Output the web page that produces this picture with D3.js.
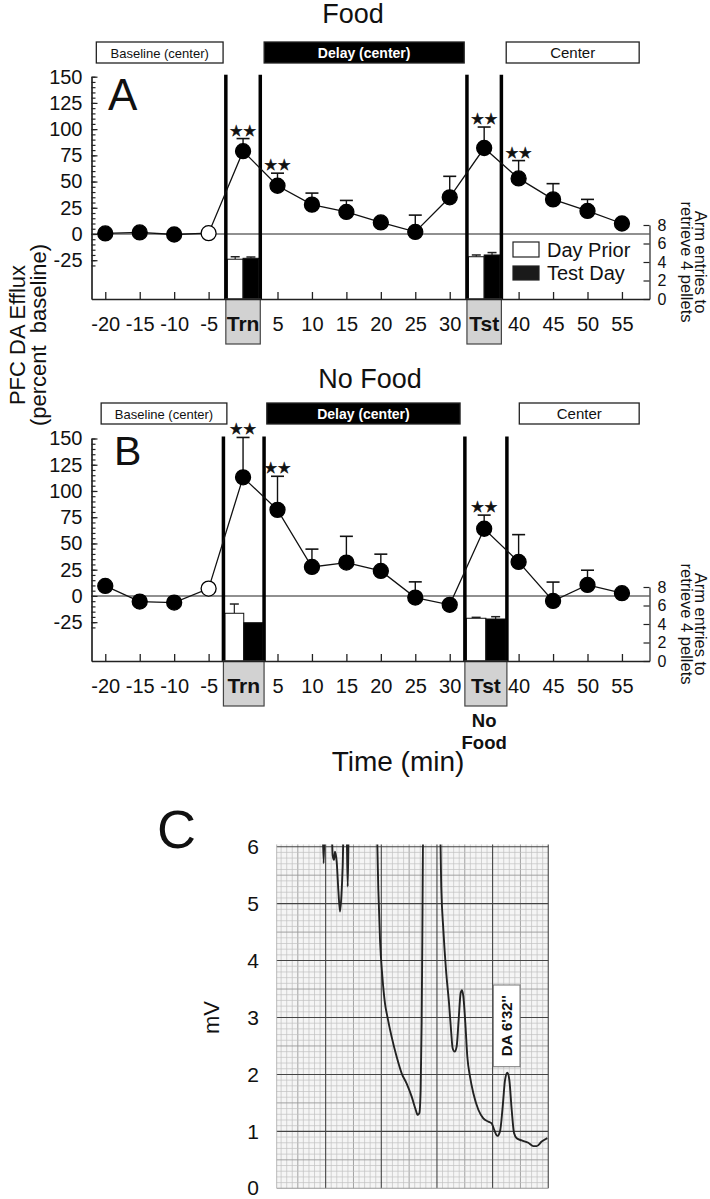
<!DOCTYPE html>
<html><head><meta charset="utf-8">
<script src="https://cdn.jsdelivr.net/npm/d3@7"></script>
<style>
body{margin:0;background:#fff;}
svg{display:block;font-family:"Liberation Sans",Arial,Helvetica,sans-serif;}
</style>
</head><body>
<svg id="chart" width="710" height="1199"></svg>
<script>
// ---------------- DATA ----------------
const times = [-20, -15, -10, -5, 0, 5, 10, 15, 20, 25, 30, 35, 40, 45, 50, 55];
const timeTickLabels = ["-20","-15","-10","-5","Trn","5","10","15","20","25","30","Tst","40","45","50","55"];
const openPointTime = -5;

const foodMean   = [0.5, 1.5, -0.5, 0.8, 79, 46, 28, 21, 11, 2, 35, 82, 53, 33, 22, 10];
const foodSem    = [0, 0, 0, 0, 12, 12, 11, 11, 0, 16, 20, 20, 17, 15, 11, 0];
const foodStars  = [0, 5, 35, 40];

const noFoodMean  = [9.5, -5.4, -6.3, 7, 113, 82, 27.6, 31.8, 23.8, -1.6, -8.5, 64, 32.4, -4.8, 10.5, 2.6];
const noFoodSem   = [0, 0, 0, 0, 38, 32, 17, 25, 16, 15, 0, 13, 26, 18, 14, 0];
const noFoodStars = [0, 5, 35];

const effluxTicks = [-25, 0, 25, 50, 75, 100, 125, 150];
const armTicks = [0, 2, 4, 6, 8];
const armCategories = ["Day Prior", "Test Day"];
const armTitle = ["Arm entries to", "retrieve 4 pellets"];
const foodArmTrn = [4.3, 4.4],   foodArmTrnErr = [0.27, 0.14];
const foodArmTst = [4.57, 4.76], foodArmTstErr = [0.19, 0.26];
const noFoodArmTrn = [5.16, 4.14], noFoodArmTrnErr = [1.0, 0];
const noFoodArmTst = [4.62, 4.54], noFoodArmTstErr = [0.1, 0.25];

const headerLabels = ["Baseline (center)", "Delay (center)", "Center"];

const mvTicks = [0, 1, 2, 3, 4, 5, 6];
const traceU  = [0.940,0.964,0.988,1.100,1.126,1.150,1.168,1.198,1.228,1.258,1.282,1.306,1.330,1.372,1.396,1.420,
                 1.910,1.947,1.977,2.019,2.066,2.108,2.186,2.276,2.366,2.456,2.546,2.618,2.654,2.684,2.707,2.725,2.737,2.755,
                 3.050,3.079,3.115,3.163,3.217,3.253,3.282,3.318,3.354,3.390,3.426,3.450,3.474,3.510,3.546,3.594,3.654,3.744,
                 3.833,3.923,3.983,4.031,4.085,4.133,4.181,4.223,4.265,4.301,4.343,4.385,4.433,4.523,4.642,4.732,4.792,4.882,4.984];
const traceMv = [6.6,5.71,6.6,6.6,5.85,5.77,5.91,5.74,5.24,4.86,5.12,5.65,6.6,6.6,5.30,6.6,
                 6.6,5.24,4.36,3.72,3.25,3.02,2.66,2.31,2.02,1.84,1.61,1.38,1.29,1.32,1.73,2.90,4.36,6.6,
                 6.6,5.24,4.54,3.83,3.25,2.78,2.46,2.40,2.49,2.96,3.43,3.48,3.37,2.90,2.31,1.96,1.67,1.38,
                 1.23,1.17,1.14,1.02,0.92,1.00,1.43,1.90,2.03,1.90,1.38,0.97,0.88,0.84,0.80,0.74,0.74,0.82,0.88];
const daLabel = "DA 6'32''";

// ---------------- LAYOUT ----------------
const svg = d3.select("#chart");
const x = d3.scaleLinear().domain([-22, 59]).range([91.5, 649.5]);
const fmt = d => String(d);

const panels = [
  { title: "Food", titleX: 353, titleY: 23, letter: "A", letterX: 108, letterY: 110, letterSize: 44,
    top: 76.7, bottom: 299, headerY: 42, mean: foodMean, sem: foodSem, stars: foodStars,
    headers: [[-21.3, -2.9], [3.06, 32.1], [38.2, 57.5]],
    windows: [[-2.5, 2.5], [32.5, 37.5]],
    arms: [[foodArmTrn, foodArmTrnErr], [foodArmTst, foodArmTstErr]], legend: true, note: false },
  { title: "No Food", titleX: 370, titleY: 388, letter: "B", letterX: 114, letterY: 465, letterSize: 41,
    top: 438.5, bottom: 661, headerY: 403, mean: noFoodMean, sem: noFoodSem, stars: noFoodStars,
    headers: [[-20.6, -2.35], [3.45, 31.5], [40.1, 57.5]],
    windows: [[-2.85, 3.05], [32.2, 38.3]],
    arms: [[noFoodArmTrn, noFoodArmTrnErr], [noFoodArmTst, noFoodArmTstErr]], legend: false, note: true }
];

panels.forEach(p => {
  const y = d3.scaleLinear().domain([-62, 150]).range([p.bottom, p.top]);
  const r = d3.scaleLinear().domain([0, 8]).range([p.bottom, p.bottom - 74]);
  const g = svg.append("g");

  g.append("text").attr("x", p.titleX).attr("y", p.titleY).attr("text-anchor", "middle")
    .attr("font-size", 27).attr("fill", "#111").text(p.title);

  headerLabels.forEach((lab, i) => {
    const [a, b] = p.headers[i];
    const dark = i === 1;
    g.append("rect").attr("x", x(a)).attr("y", p.headerY).attr("width", x(b) - x(a)).attr("height", 21)
      .attr("fill", dark ? "#000" : "#fff").attr("stroke", "#222").attr("stroke-width", 1.3);
    g.append("text").attr("x", (x(a) + x(b)) / 2).attr("y", p.headerY + 15.5).attr("text-anchor", "middle")
      .attr("font-size", [13, 14, 15][i]).attr("font-weight", dark ? "bold" : "normal")
      .attr("fill", dark ? "#fff" : "#111").text(lab);
  });

  // zero line
  g.append("line").attr("x1", x.range()[0]).attr("x2", x.range()[1])
    .attr("y1", y(0)).attr("y2", y(0)).attr("stroke", "#222").attr("stroke-width", 1.1);

  // windows: bars, thick lines, gray boxes
  p.windows.forEach((w, wi) => {
    const xl = x(w[0]), xr = x(w[1]);
    const band = d3.scaleBand().domain(armCategories).range([xl + 1.5, xr - 1.5]).padding(0);
    const [vals, errs] = p.arms[wi];
    armCategories.forEach((c, ci) => {
      const bx = band(c), bw = band.bandwidth();
      if (errs[ci] > 0) {
        const cx = bx + bw / 2;
        g.append("line").attr("x1", cx).attr("x2", cx).attr("y1", r(vals[ci])).attr("y2", r(vals[ci] + errs[ci]))
          .attr("stroke", "#222").attr("stroke-width", 1.2);
        g.append("line").attr("x1", cx - 4.5).attr("x2", cx + 4.5).attr("y1", r(vals[ci] + errs[ci])).attr("y2", r(vals[ci] + errs[ci]))
          .attr("stroke", "#222").attr("stroke-width", 1.5);
      }
      g.append("rect").attr("x", bx).attr("y", r(vals[ci])).attr("width", bw).attr("height", r(0) - r(vals[ci]))
        .attr("fill", ci === 0 ? "#fff" : "#000").attr("stroke", "#111").attr("stroke-width", 1);
    });
    [xl, xr].forEach(xx => {
      g.append("line").attr("x1", xx).attr("x2", xx).attr("y1", p.top - 2).attr("y2", p.bottom)
        .attr("stroke", "#000").attr("stroke-width", 3.5);
    });
    g.append("rect").attr("x", xl).attr("y", p.bottom).attr("width", xr - xl).attr("height", 45)
      .attr("fill", "#d2d2d2").attr("stroke", "#444").attr("stroke-width", 1.2);
    g.append("text").attr("x", (xl + xr) / 2).attr("y", p.bottom + 32).attr("text-anchor", "middle")
      .attr("font-size", 21).attr("font-weight", "bold").attr("fill", "#111")
      .text(timeTickLabels[times.indexOf(wi === 0 ? 0 : 35)]);
  });

  // left axis: minor then major
  g.append("g").attr("transform", `translate(${x.range()[0]},0)`)
    .call(d3.axisLeft(y).tickValues(d3.range(-30, 151, 5)).tickSize(-4).tickSizeOuter(0).tickFormat(""))
    .call(s => s.selectAll("line,path").attr("stroke", "#222").attr("stroke-width", 1.2));
  g.append("g").attr("transform", `translate(${x.range()[0]},0)`)
    .call(d3.axisLeft(y).tickValues(effluxTicks).tickSize(-6).tickSizeOuter(0).tickPadding(9).tickFormat(fmt))
    .call(s => { s.selectAll("line,path").attr("stroke", "#222").attr("stroke-width", 1.2);
                 s.selectAll("text").attr("font-size", 20).attr("fill", "#111").attr("font-family", null); });

  // bottom axis
  const tv = times.filter(t => t !== 0 && t !== 35);
  g.append("g").attr("transform", `translate(0,${p.bottom})`)
    .call(d3.axisBottom(x).tickValues(tv).tickSize(-7).tickSizeOuter(0).tickPadding(18)
      .tickFormat(t => timeTickLabels[times.indexOf(t)]))
    .call(s => { s.selectAll("line,path").attr("stroke", "#222").attr("stroke-width", 1.3);
                 s.selectAll("text").attr("font-size", 20).attr("fill", "#111").attr("font-family", null); });

  // right axis
  g.append("g").attr("transform", `translate(${x.range()[1]},0)`)
    .call(d3.axisRight(r).tickValues(armTicks).tickSize(-6).tickSizeOuter(0).tickPadding(8).tickFormat(fmt))
    .call(s => { s.selectAll("line,path").attr("stroke", "#222").attr("stroke-width", 1.2);
                 s.selectAll("text").attr("font-size", 16).attr("fill", "#111").attr("font-family", null); });
  const rc = p.bottom - 37;
  [[armTitle[0], 695], [armTitle[1], 681]].forEach(([txt, bx]) => {
    g.append("text").attr("transform", `translate(${bx},${rc}) rotate(90)`).attr("text-anchor", "middle")
      .attr("font-size", 16.5).attr("fill", "#111").text(txt);
  });

  // series
  const pts = times.map((t, i) => ({ t, m: p.mean[i], s: p.sem[i] }));
  g.append("path").datum(pts).attr("fill", "none").attr("stroke", "#111").attr("stroke-width", 1.3)
    .attr("d", d3.line().x(d => x(d.t)).y(d => y(d.m)));
  pts.filter(d => d.s > 0).forEach(d => {
    g.append("line").attr("x1", x(d.t)).attr("x2", x(d.t)).attr("y1", y(d.m)).attr("y2", y(d.m + d.s))
      .attr("stroke", "#111").attr("stroke-width", 1.4);
    g.append("line").attr("x1", x(d.t) - 6.5).attr("x2", x(d.t) + 6.5).attr("y1", y(d.m + d.s)).attr("y2", y(d.m + d.s))
      .attr("stroke", "#111").attr("stroke-width", 1.6);
  });
  g.selectAll(null).data(pts).join("circle")
    .attr("cx", d => x(d.t)).attr("cy", d => y(d.m)).attr("r", 7.5)
    .attr("fill", d => d.t === openPointTime ? "#fff" : "#000").attr("stroke", "#000").attr("stroke-width", 1.3);

  pts.filter(d => p.stars.includes(d.t)).forEach(d => {
    g.append("text").attr("x", x(d.t)).attr("y", y(d.m + d.s) - 3).attr("text-anchor", "middle")
      .attr("font-size", 15).attr("font-family", "DejaVu Sans").attr("fill", "#111")
      .attr("stroke", "#111").attr("stroke-width", 0.5).text("★★");
  });

  g.append("text").attr("x", p.letterX).attr("y", p.letterY).attr("font-size", p.letterSize).attr("fill", "#111").text(p.letter);

  if (p.legend) {
    g.append("rect").attr("x", 513).attr("y", 242).attr("width", 26).attr("height", 15).attr("fill", "#fff").attr("stroke", "#222").attr("stroke-width", 1.2);
    g.append("rect").attr("x", 513).attr("y", 266).attr("width", 26).attr("height", 14).attr("fill", "#1a1a1a").attr("stroke", "#222").attr("stroke-width", 1.2);
    g.append("text").attr("x", 547).attr("y", 257).attr("font-size", 20).attr("fill", "#111").text(armCategories[0]);
    g.append("text").attr("x", 547).attr("y", 280).attr("font-size", 20).attr("fill", "#111").text(armCategories[1]);
  }
  if (p.note) {
    const cx = x(35);
    g.append("text").attr("x", cx).attr("y", 727).attr("text-anchor", "middle").attr("font-size", 18.5).attr("font-weight", "bold").attr("fill", "#111").text("No");
    g.append("text").attr("x", cx).attr("y", 749).attr("text-anchor", "middle").attr("font-size", 18.5).attr("font-weight", "bold").attr("fill", "#111").text("Food");
  }
});

// shared axis titles
const yt = svg.append("text").attr("transform", "translate(0,335) rotate(-90)").attr("text-anchor", "middle")
  .attr("font-size", 22).attr("fill", "#111").style("white-space", "pre");
yt.append("tspan").attr("x", 0).attr("y", 25).text("PFC DA Efflux");
yt.append("tspan").attr("x", 0).attr("y", 46).text("(percent  baseline)");
svg.append("text").attr("x", 398).attr("y", 771).attr("text-anchor", "middle").attr("font-size", 28).attr("fill", "#111").text("Time (min)");

// ---------------- PANEL C ----------------
const xC = d3.scaleLinear().domain([0, 5]).range([270, 548.25]);
const yC = d3.scaleLinear().domain([0, 6]).range([1188.3, 846.7]);
const gc = svg.append("g");
const gx0 = xC(0.12), gx1 = xC(5), gy0 = yC(6.04), gy1 = yC(0);
gc.append("rect").attr("x", gx0).attr("y", gy0).attr("width", gx1 - gx0).attr("height", gy1 - gy0).attr("fill", "#f5f5f5");
xC.ticks(50).filter(u => u > 0.12 && u < 5 && Math.abs(u - Math.round(u)) > 1e-6).forEach(u => {
  const half = Math.abs(u * 2 - Math.round(u * 2)) < 1e-6;
  gc.append("line").attr("x1", xC(u)).attr("x2", xC(u)).attr("y1", gy0).attr("y2", gy1)
    .attr("stroke", half ? "#999" : "#c2c2c2").attr("stroke-width", half ? 0.9 : 0.7);
});
yC.ticks(60).filter(v => v > 0 && v < 6 && Math.abs(v - Math.round(v)) > 1e-6).forEach(v => {
  const half = Math.abs(v * 2 - Math.round(v * 2)) < 1e-6;
  gc.append("line").attr("x1", gx0).attr("x2", gx1).attr("y1", yC(v)).attr("y2", yC(v))
    .attr("stroke", half ? "#999" : "#c2c2c2").attr("stroke-width", half ? 0.9 : 0.7);
});
[1, 2, 3, 4, 5].forEach(u => gc.append("line").attr("x1", xC(u)).attr("x2", xC(u)).attr("y1", gy0).attr("y2", gy1)
  .attr("stroke", "#444").attr("stroke-width", 1.1));
mvTicks.forEach(v => gc.append("line").attr("x1", gx0).attr("x2", gx1).attr("y1", yC(v)).attr("y2", yC(v))
  .attr("stroke", v === 0 ? "#999" : "#444").attr("stroke-width", 1.1));
gc.append("line").attr("x1", gx0).attr("x2", gx0).attr("y1", gy0).attr("y2", gy1).attr("stroke", "#aaa").attr("stroke-width", 0.8);

gc.append("clipPath").attr("id", "gridClip").append("rect")
  .attr("x", gx0).attr("y", gy0).attr("width", gx1 - gx0).attr("height", gy1 - gy0);
const tr = traceU.map((u, i) => [u, traceMv[i]]);
gc.append("path").datum(tr).attr("clip-path", "url(#gridClip)").attr("fill", "none")
  .attr("stroke", "#222").attr("stroke-width", 1.9).attr("stroke-linejoin", "round")
  .attr("d", d3.line().x(d => xC(d[0])).y(d => yC(d[1])).curve(d3.curveMonotoneX));

gc.selectAll(null).data(mvTicks).join("text").attr("x", 253).attr("y", d => yC(d)).attr("dy", "0.34em")
  .attr("text-anchor", "middle").attr("font-size", 21).attr("fill", "#111").text(fmt);
gc.append("text").attr("transform", `translate(219,${yC(3)}) rotate(-90)`).attr("text-anchor", "middle")
  .attr("font-size", 22).attr("fill", "#111").text("mV");
gc.append("text").attr("x", 157).attr("y", 848).attr("font-size", 54).attr("fill", "#111").text("C");

gc.append("rect").attr("x", 493.3).attr("y", 985).attr("width", 26.7).attr("height", 81.7)
  .attr("fill", "#fff").attr("stroke", "#777").attr("stroke-width", 1);
gc.append("text").attr("transform", `translate(512,1025.8) rotate(-90)`).attr("text-anchor", "middle")
  .attr("font-size", 15).attr("font-weight", "bold").attr("fill", "#111").text(daLabel);
</script>
</body></html>
